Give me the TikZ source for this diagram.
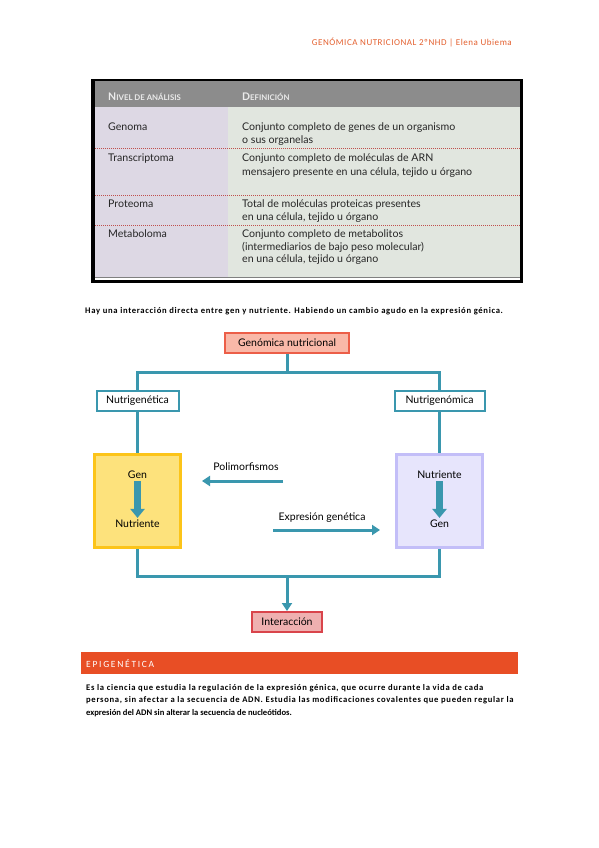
\documentclass[tikz,border=0pt]{standalone}
\usepackage{fontspec}
\setmainfont{Lato}
\newfontfamily\calfont{Carlito}
\usetikzlibrary{arrows.meta}
\definecolor{teal}{HTML}{3A97AE}
\definecolor{hdrorange}{HTML}{E4602F}
\definecolor{barorange}{HTML}{E84E25}
\definecolor{tgray}{HTML}{8C8C8C}
\definecolor{tleft}{HTML}{DDD8E4}
\definecolor{tright}{HTML}{E1E6DF}
\definecolor{dotred}{HTML}{C0504D}
\definecolor{salmon}{HTML}{F9B8A8}
\definecolor{salmonD}{HTML}{EC5E48}
\definecolor{yelF}{HTML}{FDE27C}
\definecolor{yelD}{HTML}{FCC419}
\definecolor{purF}{HTML}{E7E5FC}
\definecolor{purD}{HTML}{C3BEF8}
\definecolor{pinkF}{HTML}{EFB0B0}
\definecolor{pinkD}{HTML}{D9444B}
\newcommand\fakesc[2]{{\fontsize{10.5}{10.5}\selectfont #1}{\fontsize{7.8}{7.8}\selectfont #2}}
\begin{document}
\begin{tikzpicture}[x=1pt,y=-1pt,
  conn/.style={draw=teal,line width=3pt},
  conntip/.style={conn,-{Triangle[width=10pt,length=8pt]}},
  bigtip/.style={draw=teal,line width=6.5pt,-{Triangle[width=14pt,length=9pt]}},
  lbl/.style={inner sep=2pt,font=\fontsize{10.5}{12}\selectfont},
  smallbox/.style={lbl,draw=teal,line width=2pt,fill=white,minimum height=20pt,inner sep=1pt},
  bigbox/.style={line width=3pt,minimum width=86pt,minimum height=93pt},
  ttext/.style={anchor=base west,inner sep=0pt,font=\fontsize{10.6}{13}\selectfont,text=black!85},
  dotline/.style={draw=dotred,line width=0.6pt,dash pattern=on 0.8pt off 1.2pt},
  para/.style={anchor=base west,inner sep=0pt,font=\calfont\bfseries\fontsize{8.6}{9}\selectfont},
  parawide/.style={para,font=\calfont\bfseries\fontsize{8.6}{9}\selectfont\addfontfeatures{LetterSpace=8}}
]
\useasboundingbox (0,0) rectangle (599,848);
\fill[white] (0,0) rectangle (599,848);

% header
\node[anchor=base east,inner sep=0pt,text=hdrorange,font=\calfont\fontsize{9}{10}\selectfont\addfontfeatures{LetterSpace=6}] (hdr) at (512,46) {GENÓMICA NUTRICIONAL 2ºNHD | Elena Ubiema};

% table
\fill[black] (91,79) rectangle (523,283);
\fill[white] (95,81) rectangle (520,280);
\fill[tgray] (95,81) rectangle (520,107);
\fill[tleft] (95,107) rectangle (228,277);
\fill[tright] (228,107) rectangle (520,277);
\draw[gray,line width=0.6pt] (95,277) -- (520,277);
\draw[dotline] (95,148) -- (520,148);
\draw[dotline] (95,195) -- (520,195);
\draw[dotline] (95,225) -- (520,225);
\node[anchor=base west,inner sep=0pt,text=black!8,font=\bfseries] (h1) at (108,101) {\fakesc{N}{IVEL DE ANÁLISIS}};
\node[anchor=base west,inner sep=0pt,text=black!8,font=\bfseries] (h2) at (242,101) {\fakesc{D}{EFINICIÓN}};
\node[ttext] (r1a) at (108,131) {Genoma};
\node[ttext] (r1b) at (242,131) {Conjunto completo de genes de un organismo};
\node[ttext] (r1c) at (242,143) {o sus organelas};
\node[ttext] (r2a) at (108,161) {Transcriptoma};
\node[ttext] (r2b) at (242,161) {Conjunto completo de moléculas de ARN};
\node[ttext] (r2c) at (242,175) {mensajero presente en una célula, tejido u órgano};
\node[ttext] (r3a) at (108,207) {Proteoma};
\node[ttext] (r3b) at (242,207) {Total de moléculas proteicas presentes};
\node[ttext] (r3c) at (242,220) {en una célula, tejido u órgano};
\node[ttext] (r4a) at (108,237) {Metaboloma};
\node[ttext] (r4b) at (242,237) {Conjunto completo de metabolitos};
\node[ttext] (r4c) at (242,250) {(intermediarios de bajo peso molecular)};
\node[ttext] (r4d) at (242,262.5) {en una célula, tejido u órgano};

% sentence
\node[parawide] (sent) at (85,313) {Hay una interacción directa entre gen y nutriente. Habiendo un cambio agudo en la expresión génica.};

% diagram
\node[smallbox,draw=salmonD,fill=salmon,minimum width=124pt] (gn) at (287,343) {Genómica nutricional};
\node[smallbox,minimum width=82pt] (ng) at (137.5,401) {Nutrigenética};
\node[smallbox,minimum width=90pt] (nm) at (439.5,401) {Nutrigenómica};
\node[bigbox,draw=yelD,fill=yelF] (yel) at (137.5,501) {};
\node[bigbox,draw=purD,fill=purF] (pur) at (439.5,501) {};
\node[smallbox,draw=pinkD,fill=pinkF,minimum width=70pt] (inter) at (287,622) {Interacción};

\coordinate (top) at (287,372);
\coordinate (bot) at (287,576);
\draw[conn] (gn.south) -- (top);
\draw[conn] (ng.north) |- (top) -| (nm.north);
\draw[conn] (ng.south) -- (yel.north);
\draw[conn] (nm.south) -- (pur.north);
\draw[conn] (yel.south) |- (bot) -| (pur.south);
\draw[conntip] (bot) -- (inter.north);

\node[lbl] (g1) at (137.5,475) {Gen};
\node[lbl] (n1) at (137.5,524) {Nutriente};
\draw[bigtip] (g1.south) -- (n1.north);
\node[lbl] (n2) at (439.5,475) {Nutriente};
\node[lbl] (g2) at (439.5,524) {Gen};
\draw[bigtip] (n2.south) -- (g2.north);

\node[lbl] (pol) at (246,467) {Polimorfismos};
\coordinate (pA) at (283,481);
\coordinate (pB) at (202,481);
\draw[conntip] (pA) -- (pB);
\node[lbl] (exp) at (322,518) {Expresión genética};
\coordinate (eA) at (273,530);
\coordinate (eB) at (380,530);
\draw[conntip] (eA) -- (eB);

% epigenetica bar
\fill[barorange] (81,652) rectangle (518,674);
\node[anchor=base west,inner sep=0pt,text=white,font=\calfont\fontsize{9.5}{10}\selectfont\addfontfeatures{LetterSpace=18}] (epi) at (86,667) {EPIGENÉTICA};
\node[parawide] (p1) at (86,690) {Es la ciencia que estudia la regulación de la expresión génica, que ocurre durante la vida de cada};
\node[parawide] (p2) at (86,702.5) {persona, sin afectar a la secuencia de ADN. Estudia las modificaciones covalentes que pueden regular la};
\node[para] (p3) at (86,715) {expresión del ADN sin alterar la secuencia de nucleótidos.};
\end{tikzpicture}
\end{document}
